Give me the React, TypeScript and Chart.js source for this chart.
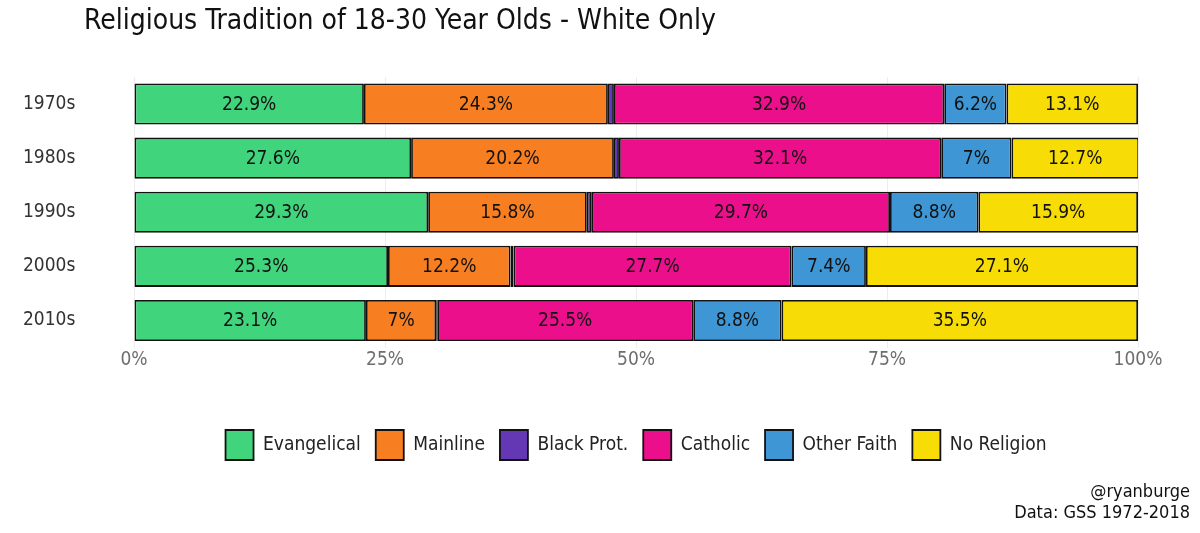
import React, { useEffect, useRef } from 'react';
import Chart from 'chart.js/auto';

const decades = ['1970s', '1980s', '1990s', '2000s', '2010s'];
const evangelical = [22.9, 27.6, 29.3, 25.3, 23.1];
const mainline = [24.3, 20.2, 15.8, 12.2, 7];
const blackProt = [0.6, 0.5, 0.5, 0.3, 0.1];
const catholic = [32.9, 32.1, 29.7, 27.7, 25.5];
const otherFaith = [6.2, 7, 8.8, 7.4, 8.8];
const noReligion = [13.1, 12.7, 15.9, 27.1, 35.5];
const xTicks = [0, 25, 50, 75, 100];

const FONT = "'Liberation Sans Narrow', 'DejaVu Sans Condensed', 'Roboto', sans-serif";

const series = [
  { label: 'Evangelical', data: evangelical, color: '#40D47C', showLabel: true },
  { label: 'Mainline', data: mainline, color: '#F77F22', showLabel: true },
  { label: 'Black Prot.', data: blackProt, color: '#6437B4', showLabel: false },
  { label: 'Catholic', data: catholic, color: '#EC0F8C', showLabel: true },
  { label: 'Other Faith', data: otherFaith, color: '#3E96D4', showLabel: true },
  { label: 'No Religion', data: noReligion, color: '#F7DC05', showLabel: true },
];

const fmt = (v: number) => `${v}%`;

// values written inside each segment, plus title and caption
const textPlugin = {
  id: 'textPlugin',
  afterDatasetsDraw(chart: any) {
    const { ctx } = chart;
    ctx.save();
    ctx.font = `19px ${FONT}`;
    ctx.fillStyle = '#111';
    ctx.textAlign = 'center';
    ctx.textBaseline = 'middle';
    series.forEach((s, di) => {
      if (!s.showLabel) return;
      const meta = chart.getDatasetMeta(di);
      meta.data.forEach((bar: any, i: number) => {
        const { x, y, base } = bar.getProps(['x', 'y', 'base'], true);
        ctx.fillText(fmt(s.data[i]), (x + base) / 2, y + 1);
      });
    });
    ctx.restore();
  },
  afterDraw(chart: any) {
    const { ctx, width } = chart;
    ctx.save();
    ctx.fillStyle = '#111';
    ctx.textBaseline = 'middle';
    ctx.textAlign = 'left';
    ctx.font = `28px ${FONT}`;
    ctx.fillText('Religious Tradition of 18-30 Year Olds - White Only', 84, 22);
    ctx.textAlign = 'right';
    ctx.font = `18px ${FONT}`;
    ctx.fillText('@ryanburge', width - 10, 492);
    ctx.fillText('Data: GSS 1972-2018', width - 10, 513);
    ctx.restore();
  },
};

export default function App() {
  const canvasRef = useRef<HTMLCanvasElement>(null);
  const chartRef = useRef<Chart>();

  useEffect(() => {
    if (!canvasRef.current) return;
    if (chartRef.current) chartRef.current.destroy();
    const ctx = canvasRef.current.getContext('2d');
    if (!ctx) return;

    chartRef.current = new Chart(ctx, {
      type: 'bar',
      data: {
        labels: decades,
        datasets: series.map(s => ({
          label: s.label,
          data: s.data,
          backgroundColor: s.color,
          borderColor: '#111',
          borderWidth: 1.8,
          borderSkipped: false,
          barPercentage: 0.76,
          categoryPercentage: 1,
        })),
      },
      options: {
        indexAxis: 'y',
        responsive: false,
        animation: false,
        layout: { padding: { top: 77, bottom: 63, left: 134, right: 62 } },
        scales: {
          x: {
            stacked: true,
            min: 0,
            max: 100,
            afterFit: (scale: any) => { scale.height = 67.5; },
            afterBuildTicks: (scale: any) => {
              scale.ticks = xTicks.map(v => ({ value: v }));
            },
            ticks: {
              callback: (v: any) => `${v}%`,
              color: '#6e6e6e',
              font: { family: FONT, size: 19 },
              padding: 1,
              maxRotation: 0,
            },
            grid: { color: 'rgba(0,0,0,0.07)', drawTicks: false },
            border: { display: false },
          },
          y: {
            stacked: true,
            afterFit: (scale: any) => { scale.width = 0; },
            ticks: {
              mirror: true,
              color: '#333',
              font: { family: FONT, size: 19 },
              padding: -111,
            },
            grid: { display: false, drawTicks: false },
            border: { display: false },
          },
        },
        plugins: {
          legend: {
            position: 'bottom',
            labels: {
              boxWidth: 28,
              boxHeight: 30,
              padding: 15,
              color: '#222',
              font: { family: FONT, size: 19 },
            },
          },
          tooltip: { enabled: false },
        },
      },
      plugins: [textPlugin],
    });

    return () => {
      if (chartRef.current) chartRef.current.destroy();
    };
  }, []);

  return (
    <div style={{ position: 'absolute', left: 0, top: 0, width: 1200, height: 533, background: '#fff' }}>
      <canvas ref={canvasRef} width={1200} height={533} />
    </div>
  );
}
